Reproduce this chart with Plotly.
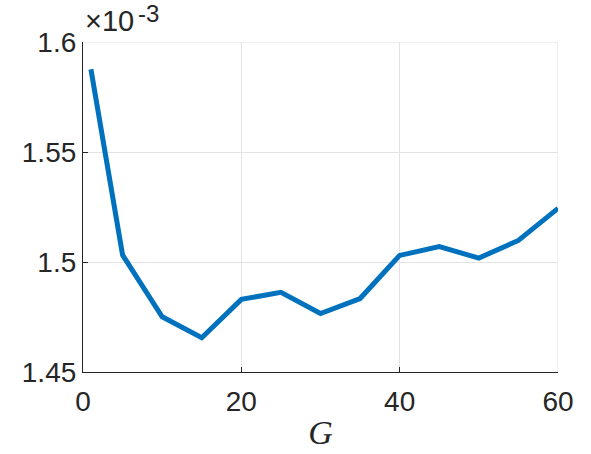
import plotly.graph_objects as go

G_values = [1, 5, 10, 15, 20, 25, 30, 35, 40, 45, 50, 55, 60]
# y values in units of 1e-3
y_values = [1.5876, 1.5032, 1.4751, 1.4656, 1.4830, 1.4862, 1.4766, 1.4834, 1.5030, 1.5070, 1.5018, 1.5098, 1.5244]

x_ticks = [0, 20, 40, 60]
y_ticks = [1.45, 1.5, 1.55, 1.6]
y_tick_labels = ["1.45", "1.5", "1.55", "1.6"]

fig = go.Figure()
fig.add_trace(go.Scatter(
    x=G_values, y=y_values, mode="lines",
    line=dict(color="#0072BD", width=5),
    showlegend=False,
))

axis_font = dict(family="Liberation Sans, Arial, sans-serif", size=28, color="#262626")

fig.update_layout(
    width=591, height=454,
    margin=dict(l=83, r=33, t=42, b=82),
    paper_bgcolor="white", plot_bgcolor="white",
    xaxis=dict(
        range=[0, 60], tickvals=x_ticks, ticktext=[str(v) for v in x_ticks],
        showgrid=True, gridcolor="#e3e3e3", gridwidth=1,
        showline=True, linecolor="#262626", linewidth=1.2,
        ticks="inside", ticklen=5, tickcolor="#262626",
        tickfont=axis_font, zeroline=False, ticklabelstandoff=4,
        automargin=False,
        title=dict(text="<i>G</i>", font=dict(family="Liberation Serif, Times New Roman, serif", size=34, color="#262626"), standoff=4),
    ),
    yaxis=dict(
        range=[1.45, 1.6], tickvals=y_ticks, ticktext=y_tick_labels,
        showgrid=True, gridcolor="#e3e3e3", gridwidth=1,
        showline=True, linecolor="#262626", linewidth=1.2,
        ticks="inside", ticklen=5, tickcolor="#262626",
        tickfont=axis_font, zeroline=False, automargin=False,
    ),
)

# light border lines at top and right (MATLAB grid at limits)
fig.add_shape(type="line", xref="x", yref="y", x0=0, x1=60, y0=1.6, y1=1.6, line=dict(color="#e3e3e3", width=1), layer="below")
fig.add_shape(type="line", xref="x", yref="y", x0=60, x1=60, y0=1.45, y1=1.6, line=dict(color="#e3e3e3", width=1), layer="below")

# exponent label: "×10" and superscript "-3"
fig.add_annotation(
    xref="paper", yref="paper", x=0, y=1, xanchor="left", yanchor="bottom",
    text="×10", showarrow=False, xshift=0, yshift=3,
    font=dict(family="Liberation Sans, Arial, sans-serif", size=29, color="#262626"),
)
fig.add_annotation(
    xref="paper", yref="paper", x=0, y=1, xanchor="left", yanchor="bottom",
    text="-3", showarrow=False, xshift=53, yshift=13,
    font=dict(family="Liberation Sans, Arial, sans-serif", size=24, color="#262626"),
)

fig.write_html("out.html", config={"displayModeBar": False},
               post_script="document.body.style.margin='0';")
